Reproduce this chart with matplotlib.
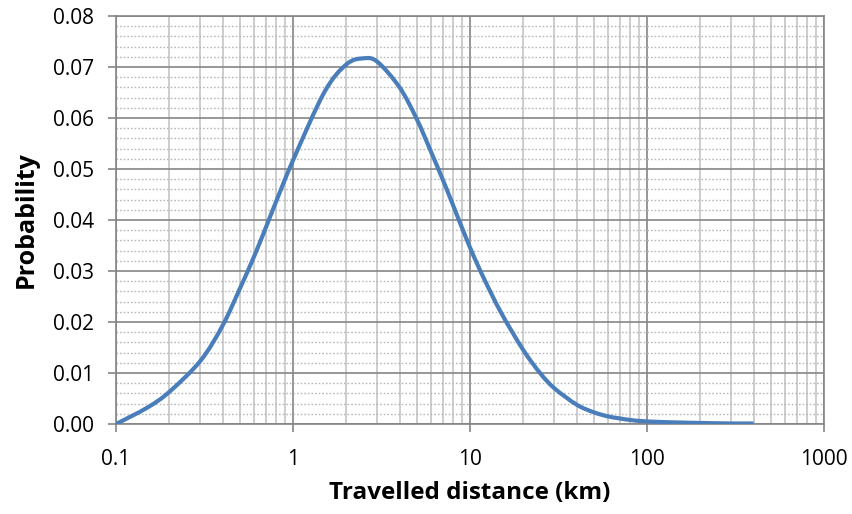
import matplotlib
matplotlib.use("Agg")
from matplotlib import pyplot as plt
from matplotlib.path import Path
from matplotlib.patches import PathPatch
from matplotlib.ticker import LogLocator, MultipleLocator, FixedLocator, FixedFormatter, NullFormatter
import numpy as np

# values
dist_km = [0.1, 0.15, 0.2, 0.3, 0.4, 0.5, 0.6, 0.7, 0.8, 1, 1.5, 2, 2.5, 3,
           4, 5, 6, 7, 8, 10, 12, 15, 20, 25, 30, 40, 50, 60, 70, 80, 100, 150,
           200, 300, 400]
prob = [0.0, 0.0032, 0.0063, 0.0124, 0.0193, 0.0265, 0.0327, 0.0384, 0.0435,
        0.0517, 0.0650, 0.0705, 0.0717, 0.0710, 0.0660, 0.0598, 0.0535, 0.0480,
        0.0430, 0.0346, 0.0285, 0.0218, 0.0145, 0.0099, 0.0070, 0.0038, 0.0023,
        0.0015, 0.0011, 0.0008, 0.0005, 0.0003, 0.0002, 0.0001, 0.0001]
x_ticks = [0.1, 1, 10, 100, 1000]
x_labels = ["0.1", "1", "10", "100", "1000"]


# smoothed line like the spreadsheet one: bezier segments through the points
def smooth_path(xs, ys):
    lx = np.log10(xs)
    ys = np.asarray(ys, dtype=float)
    n = len(lx)
    verts = [(xs[0], ys[0])]
    codes = [Path.MOVETO]
    for i in range(n - 1):
        i0 = max(i - 1, 0)
        i3 = min(i + 2, n - 1)
        c1x = lx[i] + (lx[i + 1] - lx[i0]) / 6
        c1y = ys[i] + (ys[i + 1] - ys[i0]) / 6
        c2x = lx[i + 1] - (lx[i3] - lx[i]) / 6
        c2y = ys[i + 1] - (ys[i3] - ys[i]) / 6
        verts += [(10 ** c1x, c1y), (10 ** c2x, c2y), (xs[i + 1], ys[i + 1])]
        codes += [Path.CURVE4] * 3
    return Path(verts, codes)


plt.rcParams['font.family'] = ['Open Sans', 'DejaVu Sans']

fig = plt.figure(figsize=(8.52, 5.14), dpi=100)
ax = fig.add_axes([0.1362, 0.1751, 0.8309, 0.7938])

major_c = '#858585'
minor_c = '#c0c0c0'

ax.add_patch(PathPatch(smooth_path(dist_km, prob), facecolor='none', edgecolor='#4a7ebb',
                       linewidth=3.0, capstyle='butt', zorder=5))

ax.set_xscale('log')
ax.set_xlim(0.1, 1000)
ax.set_ylim(0, 0.08)

ax.xaxis.set_major_locator(FixedLocator(x_ticks))
ax.xaxis.set_major_formatter(FixedFormatter(x_labels))
ax.xaxis.set_minor_locator(LogLocator(base=10, subs=range(2, 10)))
ax.xaxis.set_minor_formatter(NullFormatter())
ax.yaxis.set_major_locator(MultipleLocator(0.01))
ax.yaxis.set_minor_locator(MultipleLocator(0.002))
ax.yaxis.set_major_formatter(plt.FuncFormatter(lambda v, p: "%.2f" % v))

# grid lines
ax.grid(which='major', axis='both', color=major_c, linewidth=1.2, zorder=1)
ax.grid(which='minor', axis='x', color=minor_c, linewidth=1.1, zorder=0)
ax.grid(which='minor', axis='y', color='#b8b8b8', linewidth=1.0, linestyle=(0, (1.2, 1.4)), zorder=0)
ax.set_axisbelow(True)

for s in ax.spines.values():
    s.set_color(major_c)
    s.set_linewidth(1.2)

ax.tick_params(which='major', direction='out', length=6, width=1.2, color=major_c,
               labelsize=15)
ax.tick_params(axis='y', pad=10)
ax.tick_params(axis='x', pad=12)
ax.tick_params(which='minor', length=0)

ax.set_xlabel('Travelled distance (km)', fontsize=17.5, fontweight='bold', labelpad=8)
ax.set_ylabel('Probability', fontsize=18, fontweight='bold', labelpad=10)

plt.savefig('out.png', dpi=100)
